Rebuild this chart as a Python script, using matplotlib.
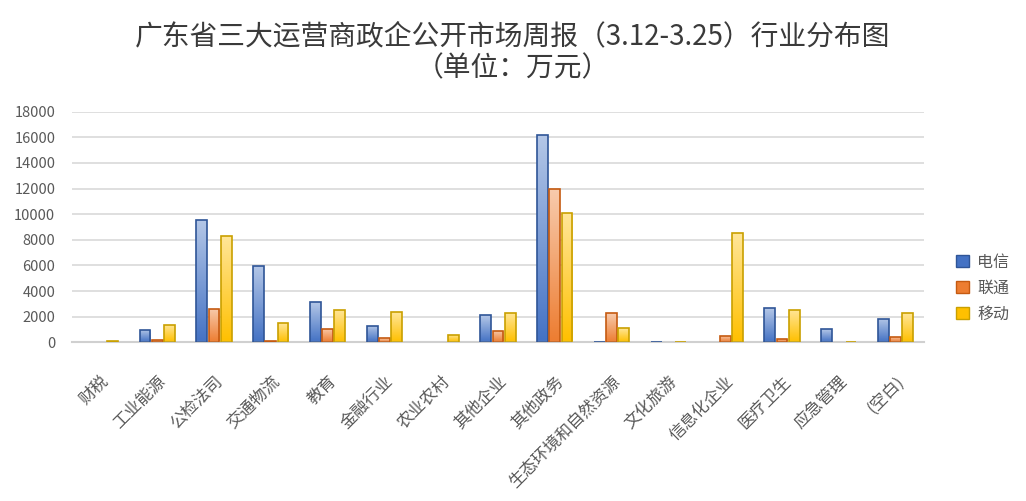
import numpy as np
import matplotlib
matplotlib.use("Agg")
import matplotlib.pyplot as plt
from matplotlib.colors import LinearSegmentedColormap
from matplotlib.patches import Patch

plt.rcParams['font.family'] = ['Noto Sans CJK SC', 'DejaVu Sans']

# data (万元)
categories = ['财税', '工业能源', '公检法司', '交通物流', '教育', '金融行业', '农业农村',
              '其他企业', '其他政务', '生态环境和自然资源', '文化旅游', '信息化企业',
              '医疗卫生', '应急管理', '(空白)']
telecom = [0, 960, 9530, 5940, 3120, 1250, 0, 2100, 16200, 50, 50, 0, 2650, 1010, 1800]
unicom = [0, 180, 2580, 120, 1040, 310, 0, 880, 12000, 2250, 0, 520, 260, 0, 440]
mobile = [130, 1330, 8300, 1480, 2500, 2340, 570, 2280, 10120, 1090, 50, 8500, 2500, 50, 2260]
series_names = ['电信', '联通', '移动']
yticks = list(range(0, 18001, 2000))

# light (top) -> full colour (bottom), edge colour
styles = [('#B4C7E7', '#4472C4', '#2F5597'),
          ('#F8CBAD', '#ED7D31', '#C55A11'),
          ('#FFE699', '#FFC000', '#C9A000')]

fig = plt.figure(figsize=(10.26, 5.01), dpi=100)
ax = fig.add_axes([0.0702, 0.3168, 0.8304, 0.4602])

x = np.arange(len(categories))
w = 0.19
step = 0.216
for k, vals in enumerate([telecom, unicom, mobile]):
    light, full, edge = styles[k]
    cmap = LinearSegmentedColormap.from_list('g%d' % k, [full, light])
    lws = [1.2 if v > 0 else 0 for v in vals]
    bars = ax.bar(x + (k - 1) * step, vals, w, facecolor='none', edgecolor=edge,
                  linewidth=lws, zorder=3)
    grad = np.linspace(0, 1, 64).reshape(-1, 1)
    for b in bars:
        if b.get_height() <= 0:
            continue
        x0, y0 = b.get_x(), b.get_y()
        im = ax.imshow(grad, cmap=cmap, origin='lower', aspect='auto',
                       extent=[x0, x0 + b.get_width(), y0, y0 + b.get_height()],
                       zorder=2.5, interpolation='bilinear')
        im.set_clip_path(b)

ax.set_xlim(-0.5, len(categories) - 0.5)
ax.set_ylim(0, 18000)
ax.set_yticks(yticks)
ax.set_yticklabels([str(v) for v in yticks], fontsize=10.5, color='#595959')
ax.set_xticks(x)
ax.set_xticklabels(categories, rotation=45, ha='right', rotation_mode='anchor',
                   fontsize=12, color='#595959')
ax.tick_params(axis='both', length=0)
ax.tick_params(axis='y', pad=12)
ax.tick_params(axis='x', pad=22)
ax.grid(axis='y', color='#D9D9D9', linewidth=1.2, zorder=0)
ax.set_axisbelow(True)
for s in ['top', 'right', 'left']:
    ax.spines[s].set_visible(False)
ax.spines['bottom'].set_color('#D0D0D0')
ax.spines['bottom'].set_linewidth(1.5)

handles = [Patch(facecolor=styles[k][1], edgecolor=styles[k][2], label=series_names[k])
           for k in range(3)]
fig.legend(handles=handles, loc='center left', bbox_to_anchor=(0.918, 0.425),
           frameon=False, fontsize=11.5, handlelength=0.8, handleheight=0.8,
           handletextpad=0.5, labelspacing=0.55, labelcolor='#595959')

fig.text(0.5, 1 - 36 / 501, '广东省三大运营商政企公开市场周报（3.12-3.25）行业分布图',
         ha='center', va='center', fontsize=20, color='#3A3A3A', fontweight='medium')
fig.text(0.5, 1 - 68 / 501, '（单位：万元）', ha='center', va='center',
         fontsize=20, color='#3A3A3A', fontweight='medium')

fig.savefig('out.png', dpi=100)
